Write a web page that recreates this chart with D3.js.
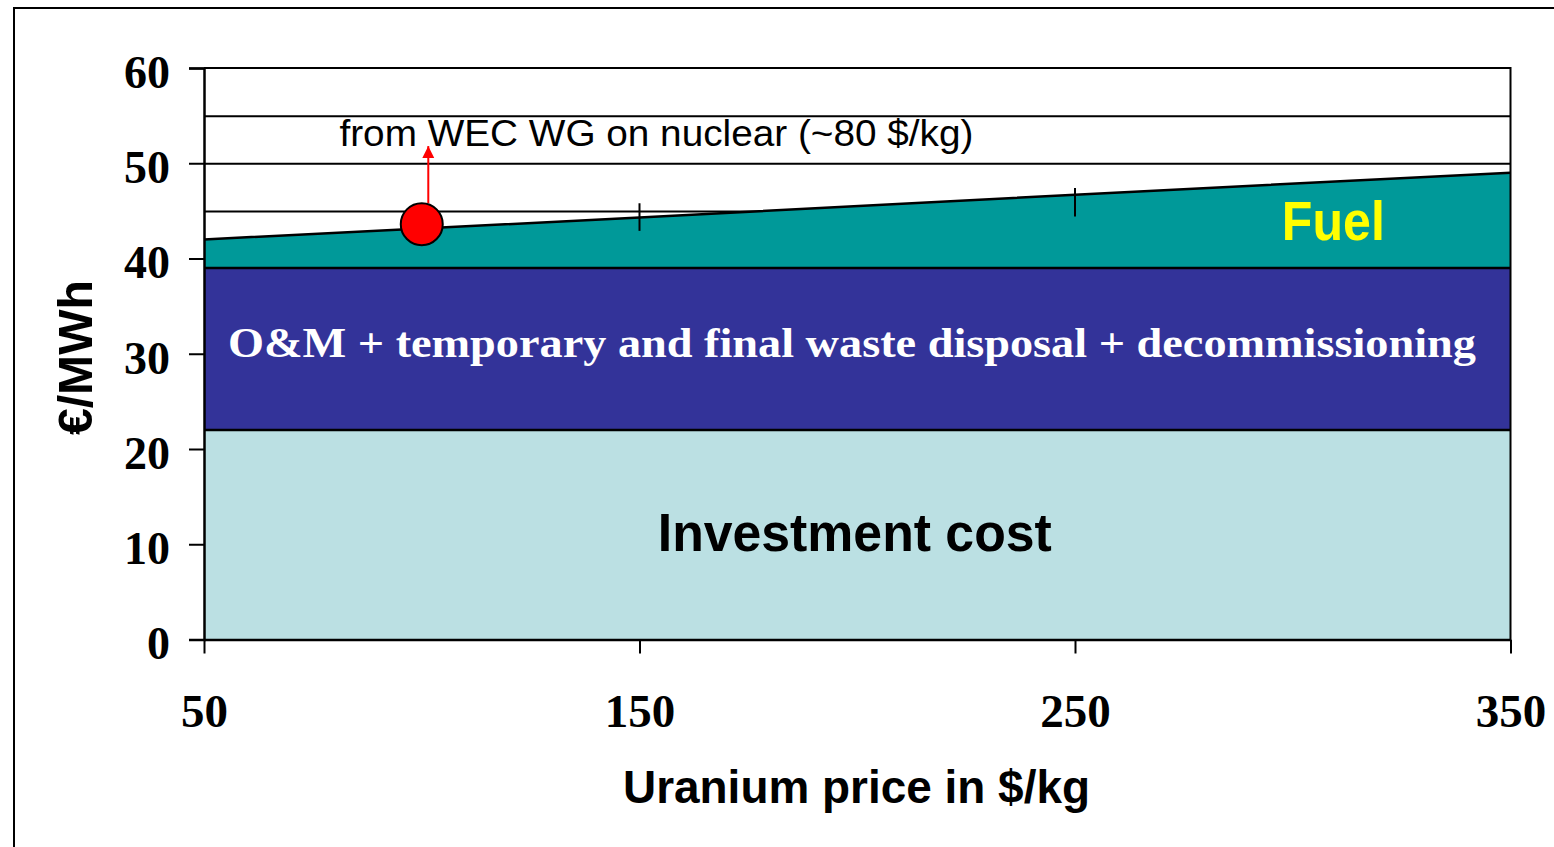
<!DOCTYPE html>
<html>
<head>
<meta charset="utf-8">
<script src="https://cdn.jsdelivr.net/npm/d3@7"></script>
<style>
  body { margin: 0; background: #fff; }
  svg { display: block; }
</style>
</head>
<body>
<svg width="1554" height="847"></svg>
<script>
// uranium price ($/kg) and cost components (EUR/MWh)
var prices = [50, 150, 250, 350];
var investment = [22, 22, 22, 22];
var oandm = [17, 17, 17, 17];
var fuel = [3, 5.3, 7.7, 10];

var keys = ["investment", "oandm", "fuel"];
var colors = {investment: "#BBE0E3", oandm: "#333399", fuel: "#009999"};

var yTicks = [0, 10, 20, 30, 40, 50, 60];
var gridValues = [5, 10, 15, 20, 25, 30, 35, 40, 45, 50, 55];

// little marks sitting on the fuel line: [price, low, high]
var fuelMarks = [[150, 42.9, 45.8], [250, 44.4, 47.4]];

// WEC point and its arrow
var wecPoint = {price: 100, cost: 43.6};
var wecArrow = {price: 101.5, from: 45.8, to: 51.8};
var wecLabel = "from WEC WG on nuclear (~80 $/kg)";

var svg = d3.select("svg"),
    margin = {top: 68, right: 43.5, bottom: 207.5, left: 204},
    width = +svg.attr("width") - margin.left - margin.right,
    height = +svg.attr("height") - margin.top - margin.bottom,
    g = svg.append("g").attr("transform", "translate(" + margin.left + "," + margin.top + ")");

// outer frame (only left and top edges show)
svg.append("path")
    .attr("d", "M14,847V8H1554")
    .attr("fill", "none")
    .attr("stroke", "#000")
    .attr("stroke-width", 2);

var xScale = d3.scaleLinear().domain([50, 350]).range([0, width]),
    yScale = d3.scaleLinear().domain([0, 60]).range([height, 0]);

var rows = prices.map(function(p, i) {
    return {price: p, investment: investment[i], oandm: oandm[i], fuel: fuel[i]};
});
var series = d3.stack().keys(keys)(rows);

// gridlines
g.append("g")
    .attr("class", "grid")
    .call(d3.axisLeft(yScale).tickValues(gridValues).tickSize(-width).tickFormat(""))
    .call(function(s) {
        s.select(".domain").remove();
        s.selectAll("line").attr("stroke", "#000").attr("stroke-width", 2);
    });

var area = d3.area()
    .x(function(d) { return xScale(d.data.price); })
    .y0(function(d) { return yScale(d[0]); })
    .y1(function(d) { return yScale(d[1]); });

var topLine = d3.line()
    .x(function(d) { return xScale(d.data.price); })
    .y(function(d) { return yScale(d[1]); });

g.selectAll(".layer")
    .data(series)
    .enter().append("path")
      .attr("class", "layer")
      .attr("d", area)
      .attr("fill", function(d) { return colors[d.key]; });

g.selectAll(".layerTop")
    .data(series)
    .enter().append("path")
      .attr("class", "layerTop")
      .attr("d", topLine)
      .attr("fill", "none")
      .attr("stroke", "#000")
      .attr("stroke-width", 2.5);

g.selectAll(".fuelMark")
    .data(fuelMarks)
    .enter().append("line")
      .attr("x1", function(d) { return xScale(d[0]); })
      .attr("x2", function(d) { return xScale(d[0]); })
      .attr("y1", function(d) { return yScale(d[1]); })
      .attr("y2", function(d) { return yScale(d[2]); })
      .attr("stroke", "#000")
      .attr("stroke-width", 2);

// plot box: top and right edges
g.append("path")
    .attr("d", "M0,0H" + width + "V" + height)
    .attr("fill", "none")
    .attr("stroke", "#000")
    .attr("stroke-width", 2);

// y axis
g.append("g")
    .attr("class", "axis axis--y")
    .call(d3.axisLeft(yScale).tickValues(yTicks).tickSize(15).tickPadding(19))
    .call(function(s) {
        s.select(".domain").attr("stroke", "#000").attr("stroke-width", 2.5);
        s.selectAll("line").attr("stroke", "#000").attr("stroke-width", 2);
        s.selectAll("text")
            .attr("dy", "0.42em")
            .style("font", "bold 46px 'Liberation Serif', 'Times New Roman', serif")
            .attr("fill", "#000");
    });

// x axis
g.append("g")
    .attr("class", "axis axis--x")
    .attr("transform", "translate(0," + height + ")")
    .call(d3.axisBottom(xScale).tickValues(prices).tickSize(14).tickSizeOuter(0).tickPadding(40))
    .call(function(s) {
        s.select(".domain").attr("stroke", "#000").attr("stroke-width", 2.5);
        s.selectAll("line").attr("stroke", "#000").attr("stroke-width", 2);
        s.selectAll("text")
            .style("font", "bold 47px 'Liberation Serif', 'Times New Roman', serif")
            .attr("fill", "#000");
    });

// area labels (start-anchored: textLength squeezes them to the reference width)
function fitText(sel, x, y, len, font, fill, txt) {
    return sel.append("text")
        .attr("x", x)
        .attr("y", y)
        .attr("textLength", len)
        .attr("lengthAdjust", "spacingAndGlyphs")
        .style("font", font)
        .attr("fill", fill)
        .text(txt);
}

fitText(g, xScale(55.5), yScale(29.7), 1248,
    "bold 42px 'Liberation Serif', 'Times New Roman', serif", "#fff",
    "O&M + temporary and final waste disposal + decommissioning");

fitText(g, xScale(154.2), yScale(9.3), 394,
    "bold 53px 'Liberation Sans', Arial, sans-serif", "#000", "Investment cost");

fitText(g, xScale(297.5), yScale(41.95), 103,
    "bold 55px 'Liberation Sans', Arial, sans-serif", "#FFFF00", "Fuel");

// WEC annotation
fitText(g, xScale(81.1), yScale(51.8), 634,
    "36px 'Liberation Sans', Arial, sans-serif", "#000", wecLabel);

svg.append("defs").append("marker")
    .attr("id", "head")
    .attr("viewBox", "0 0 10 10")
    .attr("refX", 10)
    .attr("refY", 5)
    .attr("markerUnits", "userSpaceOnUse")
    .attr("markerWidth", 12)
    .attr("markerHeight", 15)
    .attr("orient", "auto")
  .append("path")
    .attr("d", "M0,0L10,5L0,10Z")
    .attr("fill", "#FF0000");

g.append("line")
    .attr("x1", xScale(wecArrow.price))
    .attr("x2", xScale(wecArrow.price))
    .attr("y1", yScale(wecArrow.from))
    .attr("y2", yScale(wecArrow.to))
    .attr("stroke", "#FF0000")
    .attr("stroke-width", 2)
    .attr("marker-end", "url(#head)");

g.append("circle")
    .attr("cx", xScale(wecPoint.price))
    .attr("cy", yScale(wecPoint.cost))
    .attr("r", 21)
    .attr("fill", "#FF0000")
    .attr("stroke", "#000")
    .attr("stroke-width", 2);

// axis titles
fitText(svg.append("g").attr("transform", "translate(92,435) rotate(-90)"), 0, 0, 155,
    "bold 48px 'Liberation Sans', Arial, sans-serif", "#000", "€/MWh");

fitText(svg, 623, 803, 467,
    "bold 46px 'Liberation Sans', Arial, sans-serif", "#000", "Uranium price in $/kg");
</script>
</body>
</html>
